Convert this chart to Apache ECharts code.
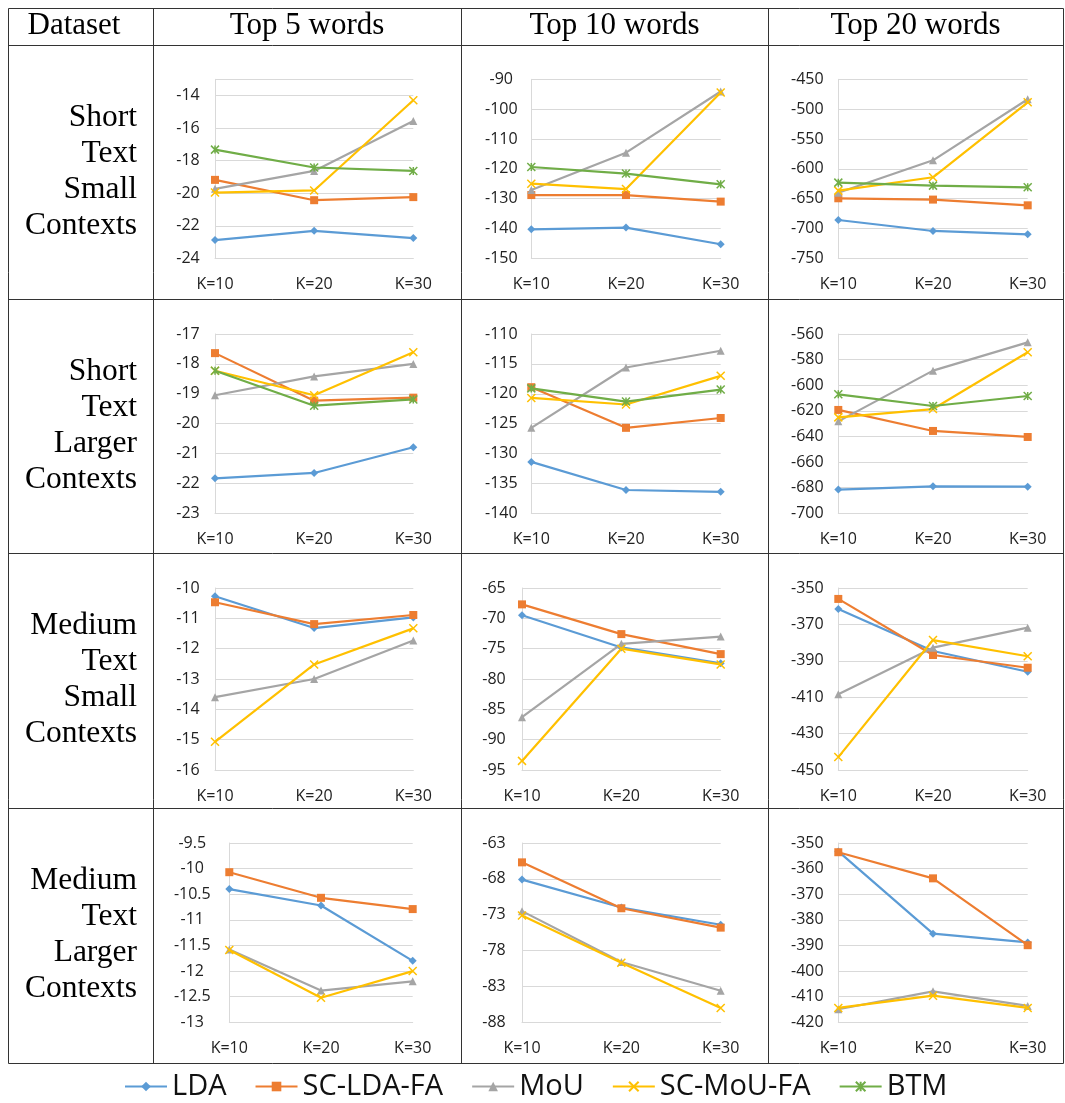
<!DOCTYPE html>
<html>
<head>
<meta charset="utf-8">
<script src="https://cdn.jsdelivr.net/npm/echarts@6/dist/echarts.min.js"></script>
<style>
html,body{margin:0;padding:0;background:#fff;}
#c{width:1065px;height:1103px;}
</style>
</head>
<body>
<div id="c"></div>
<script>
// ---------- data ----------
const categories = ['K=10', 'K=20', 'K=30'];
const seriesNames = ['LDA', 'SC-LDA-FA', 'MoU', 'SC-MoU-FA', 'BTM'];
const columnHeaders = ['Dataset', 'Top 5 words', 'Top 10 words', 'Top 20 words'];
const rowLabels = [
  ['Short', 'Text', 'Small', 'Contexts'],
  ['Short', 'Text', 'Larger', 'Contexts'],
  ['Medium', 'Text', 'Small', 'Contexts'],
  ['Medium', 'Text', 'Larger', 'Contexts']
];

// each cell: [LDA, SC-LDA-FA, MoU, SC-MoU-FA, BTM]
const shortSmallTop5 = [
  [-22.88, -22.31, -22.76], [-19.18, -20.43, -20.24], [-19.73, -18.63, -15.56],
  [-19.96, -19.83, -14.29], [-17.32, -18.42, -18.63]];
const shortSmallTop10 = [
  [-140.3, -139.7, -145.3], [-128.8, -128.8, -131.0], [-127.1, -114.6, -94.1],
  [-125.0, -126.8, -94.4], [-119.4, -121.6, -125.2]];
const shortSmallTop20 = [
  [-685.8, -704.2, -709.8], [-649.4, -651.6, -661.2], [-640.0, -585.8, -483.5],
  [-636.6, -614.2, -488.5], [-623.2, -628.2, -631.0]];
const shortLargerTop5 = [
  [-21.83, -21.65, -20.79], [-17.64, -19.23, -19.13], [-19.05, -18.42, -18.00],
  [-18.23, -19.05, -17.61], [-18.23, -19.40, -19.19]];
const shortLargerTop10 = [
  [-131.4, -136.1, -136.4], [-118.9, -125.7, -124.05], [-125.7, -115.6, -112.8],
  [-120.7, -121.8, -117.0], [-119.1, -121.3, -119.3]];
const shortLargerTop20 = [
  [-681.5, -678.9, -679.2], [-619.3, -635.7, -640.4], [-628.2, -588.6, -566.5],
  [-625.1, -618.6, -574.3], [-607.1, -616.2, -608.4]];
const mediumSmallTop5 = [
  [-10.27, -11.32, -10.97], [-10.47, -11.19, -10.89], [-13.60, -13.00, -11.73],
  [-15.07, -12.52, -11.33], null];
const mediumSmallTop10 = [
  [-69.5, -74.8, -77.4], [-67.7, -72.6, -75.9], [-86.3, -74.2, -73.0],
  [-93.5, -75.0, -77.6], null];
const mediumSmallTop20 = [
  [-361.5, -384.6, -396.0], [-356.0, -386.8, -393.8], [-408.4, -382.8, -371.8],
  [-442.9, -378.6, -387.5], null];
const mediumLargerTop5 = [
  [-10.40, -10.72, -11.80], [-10.07, -10.57, -10.79], [-11.58, -12.38, -12.20],
  [-11.59, -12.52, -12.00], null];
const mediumLargerTop10 = [
  [-68.1, -72.0, -74.4], [-65.7, -72.1, -74.8], [-72.5, -79.6, -83.6],
  [-73.1, -79.7, -86.0], null];
const mediumLargerTop20 = [
  [-353.3, -385.4, -388.8], [-353.6, -363.8, -389.9], [-414.9, -407.9, -413.6],
  [-414.4, -409.6, -414.4], null];

// value axis ticks per cell: min, max, step
const axisMin  = [-24, -150, -750, -23, -140, -700, -16, -95, -450, -13, -88, -420];
const axisMax  = [-13, -90, -450, -17, -110, -560, -10, -65, -350, -9.5, -63, -350];
const axisStep = [2, 10, 50, 1, 5, 20, 1, 5, 20, 0.5, 5, 10];

const cellData = [
  shortSmallTop5, shortSmallTop10, shortSmallTop20,
  shortLargerTop5, shortLargerTop10, shortLargerTop20,
  mediumSmallTop5, mediumSmallTop10, mediumSmallTop20,
  mediumLargerTop5, mediumLargerTop10, mediumLargerTop20
];

// ---------- layout / style ----------
// [plotLeft, plotRight, plotTop, plotBottom, yLabelMargin]
const cellLayout = [
  [215, 413.3, 79.3, 258.3, 27], [531.3, 720.7, 79.3, 258.3, 30], [838.3, 1027.7, 79.3, 258.3, 31],
  [215, 413.3, 334, 513.3, 27], [531.3, 720.7, 334, 513.3, 30], [838.3, 1027.7, 334, 513.3, 31],
  [215, 413.3, 588, 770, 27], [522, 720.7, 588, 770, 28], [838.3, 1027.7, 588, 770, 31],
  [229.3, 412.7, 843, 1022.3, 37], [522, 720.7, 843, 1022.3, 28], [838.3, 1027.7, 843, 1022.3, 31]
];
const colors = ['#5B9BD5', '#ED7D31', '#A5A5A5', '#FFC000', '#70AD47'];
const symbols = ['diamond', 'rect', 'triangle',
  'path://M0,0L10,10M10,0L0,10',
  'path://M0,0L10,10M10,0L0,10M5,0L5,10'];
const symbolSizes = [8, 8, 8, 8, 8];
const symbolBorders = [0, 0, 0, 1.5, 1.5];

const tableX = [8.5, 153.5, 461.5, 768.5, 1063.5];
const tableY = [8.5, 45.5, 299.5, 553.5, 808.5, 1063.5];

const sansFont = 'Open Sans';
const serifFont = 'Liberation Serif';

function fmt(v) {
  return String(Math.round(v * 1000) / 1000);
}

const grids = [], xAxes = [], yAxes = [], series = [];
cellData.forEach((cell, i) => {
  const L = cellLayout[i];
  const base = axisMin[i];
  const range = axisMax[i] - base;
  const step = axisStep[i];
  const ratio = range / step;
  const maxOnTick = Math.abs(ratio - Math.round(ratio)) < 1e-6;
  grids.push({ left: L[0], top: L[2], width: L[1] - L[0], height: L[3] - L[2], containLabel: false });
  xAxes.push({
    type: 'category', gridIndex: i, data: categories, boundaryGap: false,
    axisLine: { show: true, lineStyle: { color: '#d9d9d9', width: 1 } },
    axisTick: { show: false },
    splitLine: { show: false },
    axisLabel: { interval: 0, margin: 18, fontSize: 16, fontFamily: sansFont, color: '#222' }
  });
  yAxes.push({
    type: 'value', gridIndex: i, min: 0, max: range, interval: step,
    axisLine: { show: true, lineStyle: { color: '#d9d9d9', width: 1 } },
    axisTick: { show: false },
    splitLine: { show: true, lineStyle: { color: '#d9d9d9', width: 1 } },
    axisLabel: {
      align: 'center', margin: L[4], fontSize: 16, fontFamily: sansFont, color: '#222',
      showMaxLabel: maxOnTick, showMinLabel: true,
      formatter: (v) => fmt(v + base)
    }
  });
  cell.forEach((vals, s) => {
    if (!vals) return;
    series.push({
      name: seriesNames[s], type: 'line', xAxisIndex: i, yAxisIndex: i,
      data: vals.map(v => v - base),
      symbol: symbols[s], symbolSize: symbolSizes[s],
      showAllSymbol: true,
      lineStyle: { color: colors[s], width: 2.2 },
      itemStyle: { color: colors[s], borderColor: colors[s], borderWidth: symbolBorders[s] },
      emphasis: { disabled: true },
      animation: false,
      z: 2 + s
    });
  });
});

// table graphics
const graphics = [];
tableX.forEach(x => graphics.push({
  type: 'line', shape: { x1: x, y1: tableY[0], x2: x, y2: tableY[tableY.length - 1] },
  style: { stroke: '#333', lineWidth: 1 }, silent: true
}));
tableY.forEach(y => graphics.push({
  type: 'line', shape: { x1: tableX[0], y1: y, x2: tableX[tableX.length - 1], y2: y },
  style: { stroke: '#333', lineWidth: 1 }, silent: true
}));
const headerCenters = [74, 307, 614.5, 915.5];
columnHeaders.forEach((t, i) => graphics.push({
  type: 'text', x: headerCenters[i], y: 26,
  style: { text: t, fill: '#000', font: '31px "' + serifFont + '"', textAlign: 'center', textVerticalAlign: 'middle' },
  silent: true
}));
rowLabels.forEach((lines, r) => {
  const center = (tableY[r + 1] + tableY[r + 2]) / 2;
  lines.forEach((t, k) => graphics.push({
    type: 'text', x: 137, y: center - 55 + k * 36,
    style: { text: t, fill: '#000', font: '31.5px "' + serifFont + '"', textAlign: 'right', textVerticalAlign: 'middle' },
    silent: true
  }));
});

const chart = echarts.init(document.getElementById('c'), null, { renderer: 'canvas' });
chart.setOption({
  animation: false,
  backgroundColor: '#fff',
  grid: grids,
  xAxis: xAxes,
  yAxis: yAxes,
  series: series,
  legend: {
    data: seriesNames,
    left: 119, top: 1067,
    itemWidth: 42, itemHeight: 12, itemGap: 28,
    textStyle: { fontSize: 29, fontFamily: sansFont, color: '#111' },
    selectedMode: false
  },
  graphic: graphics
});
</script>
</body>
</html>
